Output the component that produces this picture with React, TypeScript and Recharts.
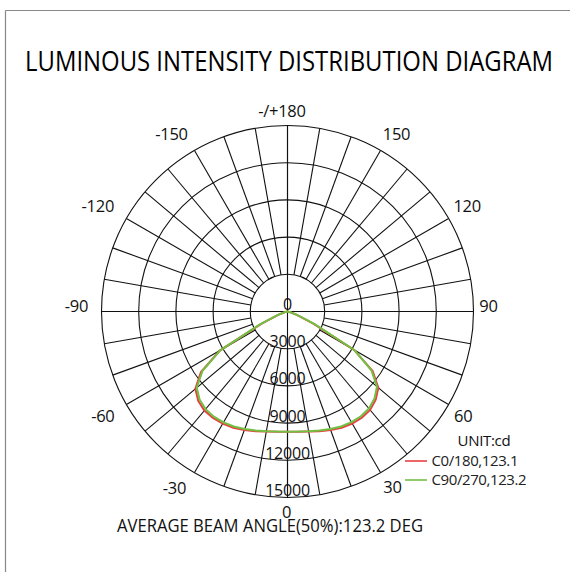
import { RadarChart, Radar, PolarGrid, PolarAngleAxis, PolarRadiusAxis } from "recharts";

// gamma angles, in the order the radar walks them (0 at the bottom, counter-clockwise)
const ANGLES = [
  0, 5, 10, 15, 20, 25, 30, 35, 40, 45, 50, 55, 60, 65, 70, 75, 80, 85, 90,
  95, 100, 105, 110, 115, 120, 125, 130, 135, 140, 145, 150, 155, 160, 165, 170, 175, 180,
  -175, -170, -165, -160, -155, -150, -145, -140, -135, -130, -125, -120, -115, -110, -105, -100, -95,
  -90, -85, -80, -75, -70, -65, -60, -55, -50, -45, -40, -35, -30, -25, -20, -15, -10, -5,
];

// C0/180 plane, cd
const C0_180 = [
  9700, 9740, 9830, 9990, 10180, 10340, 10430, 10450, 10360, 10060, 9560, 8380, 6200, 2300, 800, 250, 80, 0, 0,
  0, 0, 0, 0, 0, 0, 0, 0, 0, 0, 0, 0, 0, 0, 0, 0, 0, 0,
  0, 0, 0, 0, 0, 0, 0, 0, 0, 0, 0, 0, 0, 0, 0, 0, 0,
  0, 0, 80, 250, 800, 2300, 6300, 8520, 9700, 10180, 10430, 10480, 10440, 10340, 10180, 9990, 9830, 9740,
];

// C90/270 plane, cd
const C90_270 = [
  9690, 9720, 9800, 9930, 10090, 10230, 10310, 10320, 10220, 9920, 9420, 8260, 6250, 2450, 900, 300, 100, 0, 0,
  0, 0, 0, 0, 0, 0, 0, 0, 0, 0, 0, 0, 0, 0, 0, 0, 0, 0,
  0, 0, 0, 0, 0, 0, 0, 0, 0, 0, 0, 0, 0, 0, 0, 0, 0,
  0, 0, 100, 300, 900, 2450, 6300, 8380, 9550, 10030, 10280, 10350, 10320, 10230, 10090, 9930, 9800, 9720,
];

const ANGLE_TICKS = [0, 30, 60, 90, 120, 150, 180, 210, 240, 270, 300, 330];
const RADIUS_MAX = 15000;
const RADIUS_TICKS = [0, 3000, 6000, 9000, 12000, 15000];
const SPOKE_ANGLES = [
  0, 10, 20, 30, 40, 50, 60, 70, 80, 90, 100, 110, 120, 130, 140, 150, 160, 170,
  180, 190, 200, 210, 220, 230, 240, 250, 260, 270, 280, 290, 300, 310, 320, 330, 340, 350,
];
const AXIS_ANGLES = [0, 90, 180, 270];

const SERIES = [
  { key: "c0", name: "C0/180,123.1", color: "#e8403f" },
  { key: "c90", name: "C90/270,123.2", color: "#72c043" },
];

// deg runs 0..355 so the angle axis can be a plain number scale
const data = ANGLES.map((a, i) => ({ deg: a < 0 ? a + 360 : a, c0: C0_180[i], c90: C90_270[i] }));

const W = 570;
const H = 572;
const CX = 287.5;
const CY = 311.5;
const R_OUT = 186;
const R_IN = (R_OUT * RADIUS_TICKS[1]) / RADIUS_MAX;
const FONT = "'Open Sans', 'Noto Sans', sans-serif";
const GRID = "#111";

// small hand nudges for the angle labels, [dx, dy]
const LABEL_NUDGE: Record<number, [number, number]> = {
  0: [-1, -4], 30: [3, -2], 60: [-1, 1.5], 90: [-3, -6], 120: [3, -4.5], 150: [7, -1],
  180: [-5.5, 2.5], 210: [-14, -1], 240: [-13, -4.5], 270: [-7, -6], 300: [-8, 1.5], 330: [-11, -1],
};

function angleLabel(deg: number) {
  if (deg === 180) return "-/+180";
  return String(deg > 180 ? deg - 360 : deg);
}

function AngleTick(props: any) {
  const deg = Number(props.payload?.value);
  if (!ANGLE_TICKS.includes(deg)) return <g />;
  const dx = props.x - CX;
  const dy = props.y - CY;
  const len = Math.sqrt(dx * dx + dy * dy) || 1;
  const [nx, ny] = LABEL_NUDGE[deg] ?? [0, 0];
  const x = CX + (dx / len) * 204 + nx;
  const y = CY + (dy / len) * 204 + ny;
  return (
    <text x={x} y={y} textAnchor="middle" dominantBaseline="central" fontFamily={FONT}
      fontSize={16.5} letterSpacing={-0.3} fill="#111">
      {angleLabel(deg)}
    </text>
  );
}

function RadiusTick(props: any) {
  return (
    <text x={props.x} y={props.y - 1.5} textAnchor="middle" fontFamily={FONT} fontSize={16}
      letterSpacing={-0.2} fill="#111">
      {props.payload?.value}
    </text>
  );
}

const layer: React.CSSProperties = { position: "absolute", left: 0, top: 0 };
const margin = { top: 0, right: 0, bottom: 0, left: 0 };

export default function App() {
  return (
    <div style={{ position: "absolute", left: 0, top: 0, width: W, height: H, background: "#fff", overflow: "hidden" }}>
      <svg width={W} height={H} style={layer}>
        <line x1={5.5} y1={10.5} x2={W} y2={10.5} stroke="#888" strokeWidth={1.2} />
        <line x1={5.5} y1={10.5} x2={5.5} y2={H} stroke="#888" strokeWidth={1.2} />
        <text x={25} y={71} textLength={528} lengthAdjust="spacingAndGlyphs" fontFamily={FONT}
          fontSize={27} fontWeight={500} fill="#000">
          LUMINOUS INTENSITY DISTRIBUTION DIAGRAM
        </text>
        <text x={117} y={531.5} textLength={306} lengthAdjust="spacingAndGlyphs" fontFamily={FONT} fontSize={18} fill="#111">
          AVERAGE BEAM ANGLE(50%):123.2 DEG
        </text>
        <text x={457.5} y={445.5} fontFamily={FONT} fontSize={15} letterSpacing={-0.3} fill="#111">
          UNIT:cd
        </text>
        {SERIES.map((s, i) => (
          <g key={s.key}>
            <line x1={405} x2={427} y1={461 + i * 19} y2={461 + i * 19} stroke={s.color} strokeWidth={1.6} />
            <text x={431.5} y={466 + i * 19} fontFamily={FONT} fontSize={15} letterSpacing={-0.4} fill="#222">
              {s.name}
            </text>
          </g>
        ))}
      </svg>

      {/* spokes start at the 3000 ring */}
      <div style={layer}>
        <RadarChart width={W} height={H} cx={CX} cy={CY} innerRadius={R_IN} outerRadius={R_OUT}
          startAngle={-90} endAngle={270} margin={margin} data={data}>
          <PolarGrid gridType="circle" polarAngles={SPOKE_ANGLES} polarRadius={[]} stroke={GRID} strokeWidth={1.1} />
        </RadarChart>
      </div>

      <div style={layer}>
        <RadarChart width={W} height={H} cx={CX} cy={CY} innerRadius={0} outerRadius={R_OUT}
          startAngle={-90} endAngle={270} margin={margin} data={data}>
          <PolarGrid gridType="circle" polarAngles={AXIS_ANGLES} stroke={GRID} strokeWidth={1.1} />
          <PolarAngleAxis dataKey="deg" type="number" domain={[0, 360]} allowDataOverflow ticks={ANGLE_TICKS}
            tickCount={13} axisLine={false} tickLine={false} tick={AngleTick} />
          <PolarRadiusAxis angle={-90} type="number" domain={[0, RADIUS_MAX]} tickCount={RADIUS_TICKS.length}
            allowDataOverflow axisLine={false} tick={RadiusTick} />
          {SERIES.map((s) => (
            <Radar key={s.key} dataKey={s.key} name={s.name} stroke={s.color} strokeWidth={2}
              fill="none" fillOpacity={0} dot={false} isAnimationActive={false} />
          ))}
        </RadarChart>
      </div>
    </div>
  );
}
